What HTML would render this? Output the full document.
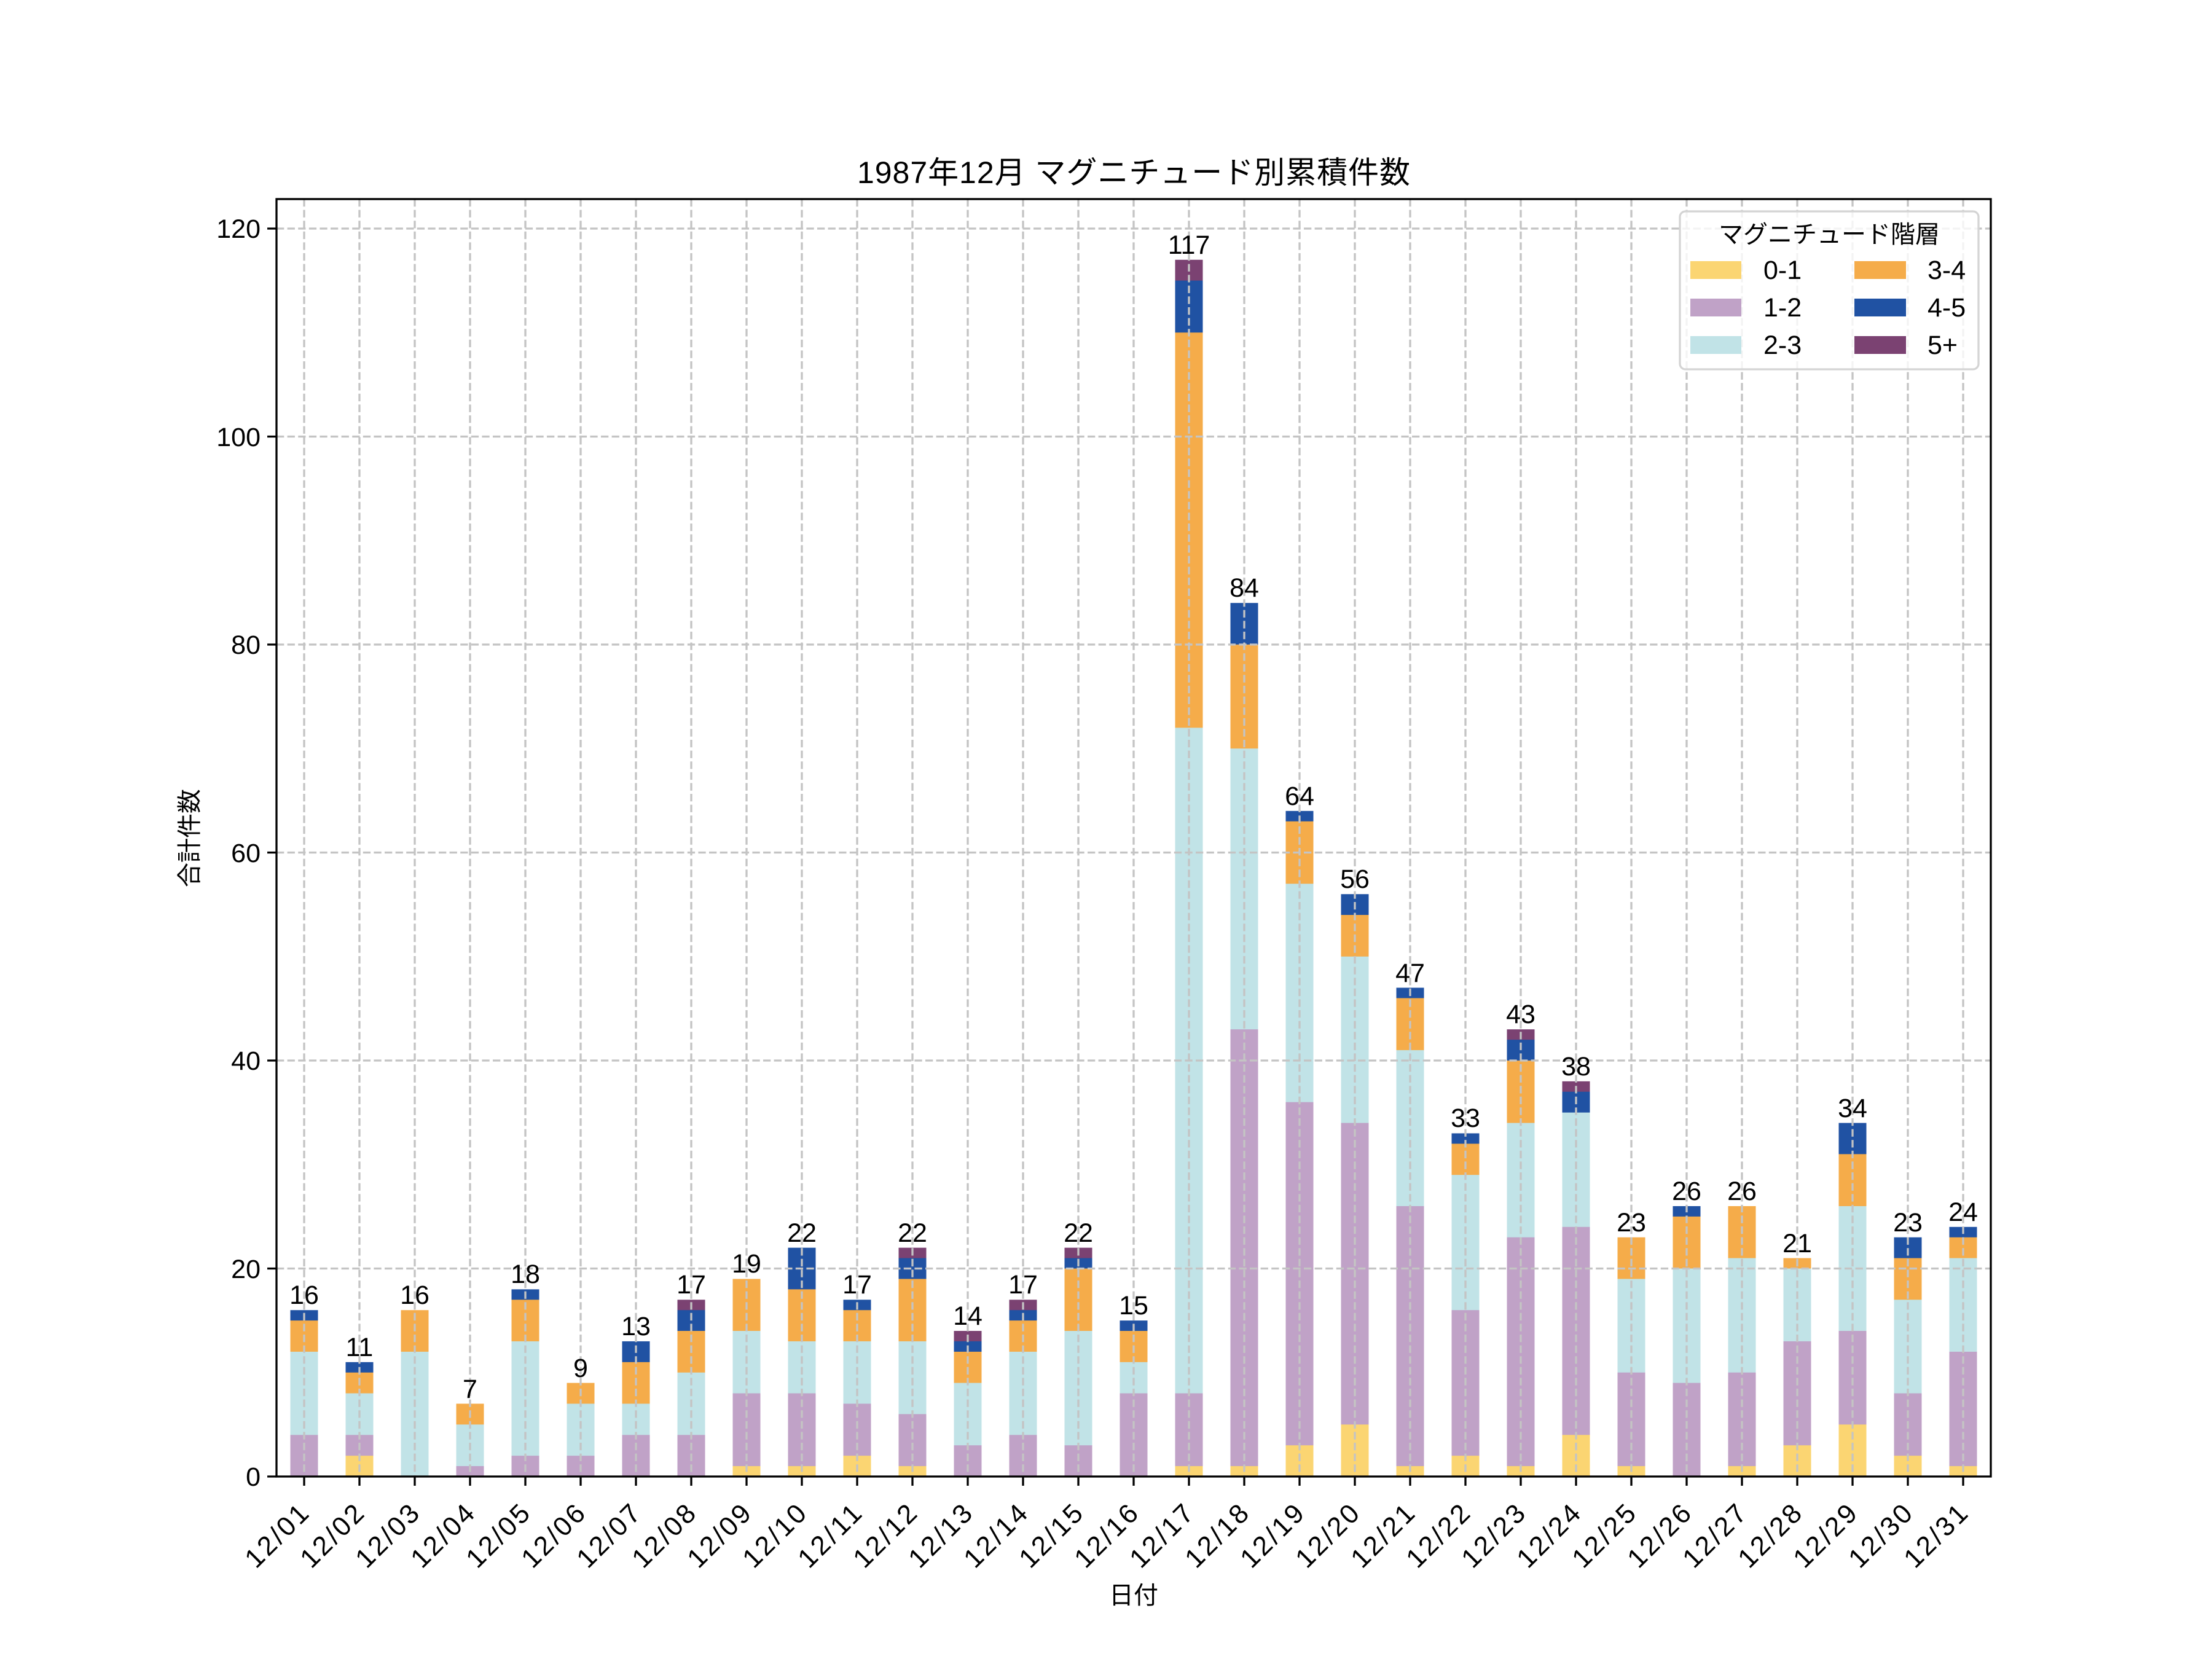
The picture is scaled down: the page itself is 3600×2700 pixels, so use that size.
<!DOCTYPE html>
<html><head><meta charset="utf-8"><style>
html,body{margin:0;padding:0;background:#fff}
svg{display:block}
text{font-family:"Liberation Sans","Noto Sans CJK JP",sans-serif;fill:#000}
.a{fill:#FBD572}.b{fill:#C0A2C7}.c{fill:#C1E3E7}.d{fill:#F5AC4A}.e{fill:#2052A3}.f{fill:#7B4272}
.g{stroke:#c4c4c4;stroke-width:3.3;stroke-dasharray:12.3,5.3;fill:none}
.v{font-size:43px;text-anchor:middle}
.yt{font-size:43px;text-anchor:end}
.xt{font-size:44px;text-anchor:end}
</style></head><body>
<svg width="3600" height="2700" viewBox="0 0 3600 2700" xmlns="http://www.w3.org/2000/svg">
<rect width="3600" height="2700" fill="#fff"/>
<g transform="translate(0,2403) scale(1,-16.925)">
<rect class="e" x="472.5" width="45" height="16"/><rect class="d" x="472.5" width="45" height="15"/><rect class="c" x="472.5" width="45" height="12"/><rect class="b" x="472.5" width="45" height="4"/>
<rect class="e" x="562.5" width="45" height="11"/><rect class="d" x="562.5" width="45" height="10"/><rect class="c" x="562.5" width="45" height="8"/><rect class="b" x="562.5" width="45" height="4"/><rect class="a" x="562.5" width="45" height="2"/>
<rect class="d" x="652.5" width="45" height="16"/><rect class="c" x="652.5" width="45" height="12"/>
<rect class="d" x="742.5" width="45" height="7"/><rect class="c" x="742.5" width="45" height="5"/><rect class="b" x="742.5" width="45" height="1"/>
<rect class="e" x="832.5" width="45" height="18"/><rect class="d" x="832.5" width="45" height="17"/><rect class="c" x="832.5" width="45" height="13"/><rect class="b" x="832.5" width="45" height="2"/>
<rect class="d" x="922.5" width="45" height="9"/><rect class="c" x="922.5" width="45" height="7"/><rect class="b" x="922.5" width="45" height="2"/>
<rect class="e" x="1012.5" width="45" height="13"/><rect class="d" x="1012.5" width="45" height="11"/><rect class="c" x="1012.5" width="45" height="7"/><rect class="b" x="1012.5" width="45" height="4"/>
<rect class="f" x="1102.5" width="45" height="17"/><rect class="e" x="1102.5" width="45" height="16"/><rect class="d" x="1102.5" width="45" height="14"/><rect class="c" x="1102.5" width="45" height="10"/><rect class="b" x="1102.5" width="45" height="4"/>
<rect class="d" x="1192.5" width="45" height="19"/><rect class="c" x="1192.5" width="45" height="14"/><rect class="b" x="1192.5" width="45" height="8"/><rect class="a" x="1192.5" width="45" height="1"/>
<rect class="e" x="1282.5" width="45" height="22"/><rect class="d" x="1282.5" width="45" height="18"/><rect class="c" x="1282.5" width="45" height="13"/><rect class="b" x="1282.5" width="45" height="8"/><rect class="a" x="1282.5" width="45" height="1"/>
<rect class="e" x="1372.5" width="45" height="17"/><rect class="d" x="1372.5" width="45" height="16"/><rect class="c" x="1372.5" width="45" height="13"/><rect class="b" x="1372.5" width="45" height="7"/><rect class="a" x="1372.5" width="45" height="2"/>
<rect class="f" x="1462.5" width="45" height="22"/><rect class="e" x="1462.5" width="45" height="21"/><rect class="d" x="1462.5" width="45" height="19"/><rect class="c" x="1462.5" width="45" height="13"/><rect class="b" x="1462.5" width="45" height="6"/><rect class="a" x="1462.5" width="45" height="1"/>
<rect class="f" x="1552.5" width="45" height="14"/><rect class="e" x="1552.5" width="45" height="13"/><rect class="d" x="1552.5" width="45" height="12"/><rect class="c" x="1552.5" width="45" height="9"/><rect class="b" x="1552.5" width="45" height="3"/>
<rect class="f" x="1642.5" width="45" height="17"/><rect class="e" x="1642.5" width="45" height="16"/><rect class="d" x="1642.5" width="45" height="15"/><rect class="c" x="1642.5" width="45" height="12"/><rect class="b" x="1642.5" width="45" height="4"/>
<rect class="f" x="1732.5" width="45" height="22"/><rect class="e" x="1732.5" width="45" height="21"/><rect class="d" x="1732.5" width="45" height="20"/><rect class="c" x="1732.5" width="45" height="14"/><rect class="b" x="1732.5" width="45" height="3"/>
<rect class="e" x="1822.5" width="45" height="15"/><rect class="d" x="1822.5" width="45" height="14"/><rect class="c" x="1822.5" width="45" height="11"/><rect class="b" x="1822.5" width="45" height="8"/>
<rect class="f" x="1912.5" width="45" height="117"/><rect class="e" x="1912.5" width="45" height="115"/><rect class="d" x="1912.5" width="45" height="110"/><rect class="c" x="1912.5" width="45" height="72"/><rect class="b" x="1912.5" width="45" height="8"/><rect class="a" x="1912.5" width="45" height="1"/>
<rect class="e" x="2002.5" width="45" height="84"/><rect class="d" x="2002.5" width="45" height="80"/><rect class="c" x="2002.5" width="45" height="70"/><rect class="b" x="2002.5" width="45" height="43"/><rect class="a" x="2002.5" width="45" height="1"/>
<rect class="e" x="2092.5" width="45" height="64"/><rect class="d" x="2092.5" width="45" height="63"/><rect class="c" x="2092.5" width="45" height="57"/><rect class="b" x="2092.5" width="45" height="36"/><rect class="a" x="2092.5" width="45" height="3"/>
<rect class="e" x="2182.5" width="45" height="56"/><rect class="d" x="2182.5" width="45" height="54"/><rect class="c" x="2182.5" width="45" height="50"/><rect class="b" x="2182.5" width="45" height="34"/><rect class="a" x="2182.5" width="45" height="5"/>
<rect class="e" x="2272.5" width="45" height="47"/><rect class="d" x="2272.5" width="45" height="46"/><rect class="c" x="2272.5" width="45" height="41"/><rect class="b" x="2272.5" width="45" height="26"/><rect class="a" x="2272.5" width="45" height="1"/>
<rect class="e" x="2362.5" width="45" height="33"/><rect class="d" x="2362.5" width="45" height="32"/><rect class="c" x="2362.5" width="45" height="29"/><rect class="b" x="2362.5" width="45" height="16"/><rect class="a" x="2362.5" width="45" height="2"/>
<rect class="f" x="2452.5" width="45" height="43"/><rect class="e" x="2452.5" width="45" height="42"/><rect class="d" x="2452.5" width="45" height="40"/><rect class="c" x="2452.5" width="45" height="34"/><rect class="b" x="2452.5" width="45" height="23"/><rect class="a" x="2452.5" width="45" height="1"/>
<rect class="f" x="2542.5" width="45" height="38"/><rect class="e" x="2542.5" width="45" height="37"/><rect class="c" x="2542.5" width="45" height="35"/><rect class="b" x="2542.5" width="45" height="24"/><rect class="a" x="2542.5" width="45" height="4"/>
<rect class="d" x="2632.5" width="45" height="23"/><rect class="c" x="2632.5" width="45" height="19"/><rect class="b" x="2632.5" width="45" height="10"/><rect class="a" x="2632.5" width="45" height="1"/>
<rect class="e" x="2722.5" width="45" height="26"/><rect class="d" x="2722.5" width="45" height="25"/><rect class="c" x="2722.5" width="45" height="20"/><rect class="b" x="2722.5" width="45" height="9"/>
<rect class="d" x="2812.5" width="45" height="26"/><rect class="c" x="2812.5" width="45" height="21"/><rect class="b" x="2812.5" width="45" height="10"/><rect class="a" x="2812.5" width="45" height="1"/>
<rect class="d" x="2902.5" width="45" height="21"/><rect class="c" x="2902.5" width="45" height="20"/><rect class="b" x="2902.5" width="45" height="13"/><rect class="a" x="2902.5" width="45" height="3"/>
<rect class="e" x="2992.5" width="45" height="34"/><rect class="d" x="2992.5" width="45" height="31"/><rect class="c" x="2992.5" width="45" height="26"/><rect class="b" x="2992.5" width="45" height="14"/><rect class="a" x="2992.5" width="45" height="5"/>
<rect class="e" x="3082.5" width="45" height="23"/><rect class="d" x="3082.5" width="45" height="21"/><rect class="c" x="3082.5" width="45" height="17"/><rect class="b" x="3082.5" width="45" height="8"/><rect class="a" x="3082.5" width="45" height="2"/>
<rect class="e" x="3172.5" width="45" height="24"/><rect class="d" x="3172.5" width="45" height="23"/><rect class="c" x="3172.5" width="45" height="21"/><rect class="b" x="3172.5" width="45" height="12"/><rect class="a" x="3172.5" width="45" height="1"/>
</g>
<path class="g" d="M450 2064.5H3240M450 1726H3240M450 1387.5H3240M450 1049H3240M450 710.5H3240M450 372H3240"/>
<path class="g" d="M495 324V2403M585 324V2403M675 324V2403M765 324V2403M855 324V2403M945 324V2403M1035 324V2403M1125 324V2403M1215 324V2403M1305 324V2403M1395 324V2403M1485 324V2403M1575 324V2403M1665 324V2403M1755 324V2403M1845 324V2403M1935 324V2403M2025 324V2403M2115 324V2403M2205 324V2403M2295 324V2403M2385 324V2403M2475 324V2403M2565 324V2403M2655 324V2403M2745 324V2403M2835 324V2403M2925 324V2403M3015 324V2403M3105 324V2403M3195 324V2403"/>
<g>
<text x="495" y="2122" class="v">16</text><text x="585" y="2207" class="v">11</text><text x="675" y="2122" class="v">16</text><text x="765" y="2275" class="v">7</text><text x="855" y="2088" class="v">18</text><text x="945" y="2241" class="v">9</text><text x="1035" y="2173" class="v">13</text><text x="1125" y="2105" class="v">17</text><text x="1215" y="2071" class="v">19</text><text x="1305" y="2021" class="v">22</text><text x="1395" y="2105" class="v">17</text><text x="1485" y="2021" class="v">22</text><text x="1575" y="2156" class="v">14</text><text x="1665" y="2105" class="v">17</text><text x="1755" y="2021" class="v">22</text><text x="1845" y="2139" class="v">15</text><text x="1935" y="413" class="v">117</text><text x="2025" y="971" class="v">84</text><text x="2115" y="1310" class="v">64</text><text x="2205" y="1445" class="v">56</text><text x="2295" y="1598" class="v">47</text><text x="2385" y="1834" class="v">33</text><text x="2475" y="1665" class="v">43</text><text x="2565" y="1750" class="v">38</text><text x="2655" y="2004" class="v">23</text><text x="2745" y="1953" class="v">26</text><text x="2835" y="1953" class="v">26</text><text x="2925" y="2038" class="v">21</text><text x="3015" y="1818" class="v">34</text><text x="3105" y="2004" class="v">23</text><text x="3195" y="1987" class="v">24</text>
</g>
<rect x="450" y="324" width="2790" height="2079" fill="none" stroke="#000" stroke-width="3.3"/>
<path stroke="#000" stroke-width="3.3" d="M450 2403h-15M450 2064.5h-15M450 1726h-15M450 1387.5h-15M450 1049h-15M450 710.5h-15M450 372h-15"/>
<path stroke="#000" stroke-width="3.3" d="M495 2403v15M585 2403v15M675 2403v15M765 2403v15M855 2403v15M945 2403v15M1035 2403v15M1125 2403v15M1215 2403v15M1305 2403v15M1395 2403v15M1485 2403v15M1575 2403v15M1665 2403v15M1755 2403v15M1845 2403v15M1935 2403v15M2025 2403v15M2115 2403v15M2205 2403v15M2295 2403v15M2385 2403v15M2475 2403v15M2565 2403v15M2655 2403v15M2745 2403v15M2835 2403v15M2925 2403v15M3015 2403v15M3105 2403v15M3195 2403v15"/>
<text class="yt" x="424" y="2418">0</text><text class="yt" x="424" y="2080">20</text><text class="yt" x="424" y="1741">40</text><text class="yt" x="424" y="1403">60</text><text class="yt" x="424" y="1064">80</text><text class="yt" x="424" y="726">100</text><text class="yt" x="424" y="387">120</text>
<g>
<text class="xt" textLength="125" transform="translate(505,2466) rotate(-45)">12/01</text><text class="xt" textLength="125" transform="translate(595,2466) rotate(-45)">12/02</text><text class="xt" textLength="125" transform="translate(685,2466) rotate(-45)">12/03</text><text class="xt" textLength="125" transform="translate(775,2466) rotate(-45)">12/04</text><text class="xt" textLength="125" transform="translate(865,2466) rotate(-45)">12/05</text><text class="xt" textLength="125" transform="translate(955,2466) rotate(-45)">12/06</text><text class="xt" textLength="125" transform="translate(1045,2466) rotate(-45)">12/07</text><text class="xt" textLength="125" transform="translate(1135,2466) rotate(-45)">12/08</text><text class="xt" textLength="125" transform="translate(1225,2466) rotate(-45)">12/09</text><text class="xt" textLength="125" transform="translate(1315,2466) rotate(-45)">12/10</text><text class="xt" textLength="125" transform="translate(1405,2466) rotate(-45)">12/11</text><text class="xt" textLength="125" transform="translate(1495,2466) rotate(-45)">12/12</text><text class="xt" textLength="125" transform="translate(1585,2466) rotate(-45)">12/13</text><text class="xt" textLength="125" transform="translate(1675,2466) rotate(-45)">12/14</text><text class="xt" textLength="125" transform="translate(1765,2466) rotate(-45)">12/15</text><text class="xt" textLength="125" transform="translate(1855,2466) rotate(-45)">12/16</text><text class="xt" textLength="125" transform="translate(1945,2466) rotate(-45)">12/17</text><text class="xt" textLength="125" transform="translate(2035,2466) rotate(-45)">12/18</text><text class="xt" textLength="125" transform="translate(2125,2466) rotate(-45)">12/19</text><text class="xt" textLength="125" transform="translate(2215,2466) rotate(-45)">12/20</text><text class="xt" textLength="125" transform="translate(2305,2466) rotate(-45)">12/21</text><text class="xt" textLength="125" transform="translate(2395,2466) rotate(-45)">12/22</text><text class="xt" textLength="125" transform="translate(2485,2466) rotate(-45)">12/23</text><text class="xt" textLength="125" transform="translate(2575,2466) rotate(-45)">12/24</text><text class="xt" textLength="125" transform="translate(2665,2466) rotate(-45)">12/25</text><text class="xt" textLength="125" transform="translate(2755,2466) rotate(-45)">12/26</text><text class="xt" textLength="125" transform="translate(2845,2466) rotate(-45)">12/27</text><text class="xt" textLength="125" transform="translate(2935,2466) rotate(-45)">12/28</text><text class="xt" textLength="125" transform="translate(3025,2466) rotate(-45)">12/29</text><text class="xt" textLength="125" transform="translate(3115,2466) rotate(-45)">12/30</text><text class="xt" textLength="125" transform="translate(3205,2466) rotate(-45)">12/31</text>
</g>
<text x="1845" y="2610" font-size="40" text-anchor="middle">日付</text>
<text transform="translate(322,1364) rotate(-90)" font-size="40" text-anchor="middle">合計件数</text>
<text x="1845" y="298" font-size="50" text-anchor="middle" textLength="900">1987年12月 マグニチュード別累積件数</text>
<rect x="2734" y="344" width="486" height="257" rx="9" fill="#fff" fill-opacity="0.8" stroke="#d4d4d4" stroke-width="3.3"/>
<text x="2977" y="395" font-size="40" text-anchor="middle">マグニチュード階層</text>
<rect class="a" x="2751" y="425" width="83" height="29"/><text x="2870" y="454" font-size="43">0-1</text>
<rect class="b" x="2751" y="486" width="83" height="29"/><text x="2870" y="515" font-size="43">1-2</text>
<rect class="c" x="2751" y="547" width="83" height="29"/><text x="2870" y="576" font-size="43">2-3</text>
<rect class="d" x="3018" y="425" width="84" height="29"/><text x="3137" y="454" font-size="43">3-4</text>
<rect class="e" x="3018" y="486" width="84" height="29"/><text x="3137" y="515" font-size="43">4-5</text>
<rect class="f" x="3018" y="547" width="84" height="29"/><text x="3137" y="576" font-size="43">5+</text>
</svg>
</body></html>
